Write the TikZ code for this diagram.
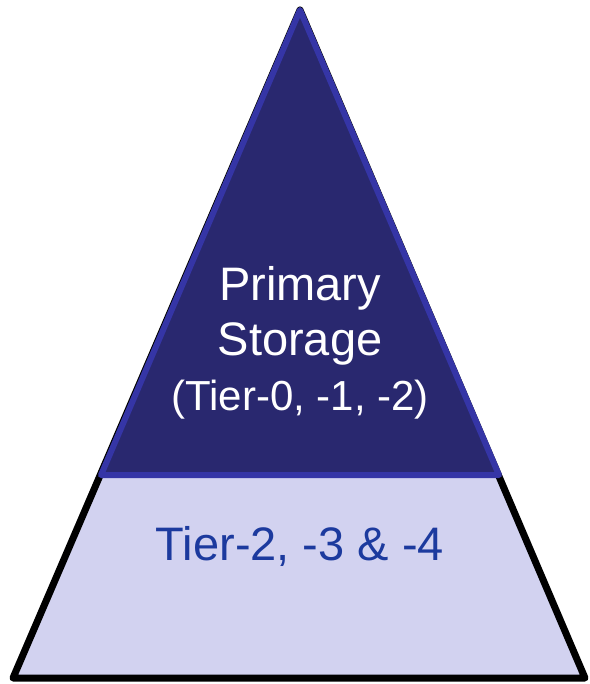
\documentclass[tikz,border=0pt]{standalone}
\usepackage{fontspec}
\setmainfont{Liberation Sans}
\definecolor{TopFill}{HTML}{29286F}
\definecolor{TopBorder}{HTML}{3535A6}
\definecolor{BottomFill}{HTML}{D2D2F0}
\definecolor{TierText}{HTML}{1C3A9E}
\begin{document}
\begin{tikzpicture}[x=1pt,y=-1pt]

    \useasboundingbox (0,0) rectangle (589,684);

    \coordinate (Top) at (300, 10);
    \coordinate (L) at (13, 678);
    \coordinate (R) at (585, 678);

    % Borde inferior de la capa primaria.
    \coordinate (PL) at (101, 475);
    \coordinate (PR) at (499, 475);

    \fill[BottomFill] (Top) -- (L) -- (R) -- cycle;
    \draw[line width=7pt, line join=round] (Top) -- (L) -- (R) -- cycle;

    \draw[fill=TopFill, draw=TopBorder, line width=6pt, line join=round]
    (Top) -- (PL) -- (PR) -- cycle;

    \node[text=white, font=\fontsize{47}{55}\selectfont, anchor=base] (primary) at (300, 300) {Primary};
    \node[text=white, font=\fontsize{47}{55}\selectfont, anchor=base] (storage) at (300, 355) {Storage};
    \node[text=white, font=\fontsize{42}{48}\selectfont, anchor=base] (tiers) at (300, 410) {(Tier-0, -1, -2)};

    \node[text=TierText, font=\fontsize{47}{55}\selectfont, anchor=base] (lower) at (300, 560) {Tier-2, -3 \& -4};
\end{tikzpicture}
\end{document}
